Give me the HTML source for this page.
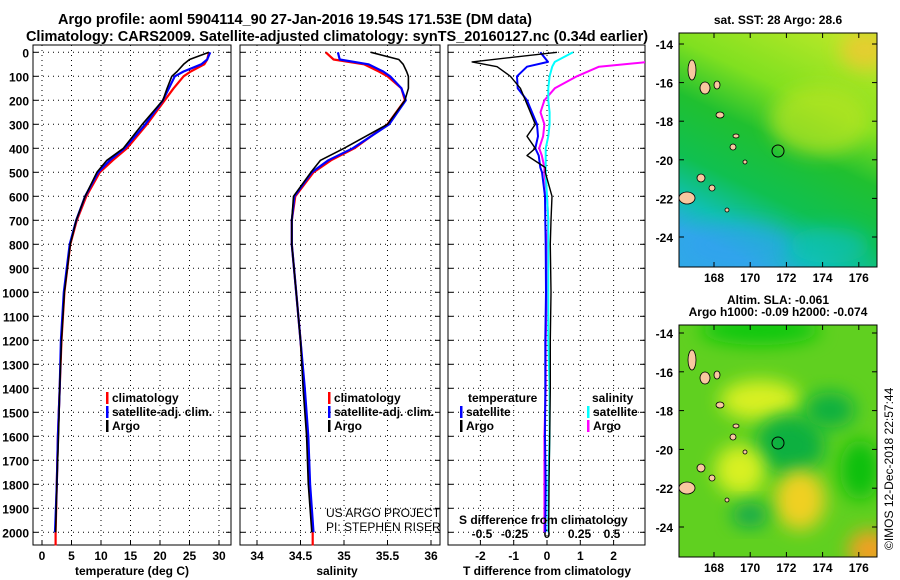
<!DOCTYPE html>
<html><head><meta charset="utf-8"><style>
html,body{margin:0;padding:0;background:#fff}
svg{display:block;font-family:"Liberation Sans",sans-serif}
.t{font-weight:bold;font-size:14.5px}
.k{font-weight:bold;font-size:12px}
.n{font-size:12px}
</style></head><body>
<svg id="c" width="900" height="580" viewBox="0 0 900 580" xmlns="http://www.w3.org/2000/svg">
<defs>
<filter id="bl" x="-50%" y="-50%" width="200%" height="200%"><feGaussianBlur stdDeviation="9"/></filter>
<clipPath id="cm1"><rect x="679" y="33" width="198" height="234"/></clipPath>
<clipPath id="cm2"><rect x="679" y="325" width="198" height="232"/></clipPath>
<clipPath id="cp3"><rect x="448" y="45" width="197" height="500"/></clipPath>
<linearGradient id="sst" x1="0.8" y1="0" x2="0.4" y2="1">
<stop offset="0" stop-color="#b8e828"/><stop offset="0.3" stop-color="#80e020"/><stop offset="0.5" stop-color="#20c030"/><stop offset="0.72" stop-color="#10c050"/><stop offset="0.88" stop-color="#10c0b0"/><stop offset="1" stop-color="#30a8e8"/></linearGradient>
</defs>
<text class="t" x="295" y="24" text-anchor="middle">Argo profile: aoml 5904114_90 27-Jan-2016 19.54S 171.53E (DM data)</text>
<text class="t" x="337" y="41" text-anchor="middle">Climatology: CARS2009. Satellite-adjusted climatology: synTS_20160127.nc (0.34d earlier)</text>
<!-- maps -->
<g>
<text class="k" x="778" y="24" text-anchor="middle">sat. SST: 28 Argo: 28.6</text>
<g clip-path="url(#cm1)">
<rect x="679" y="33" width="198" height="234" fill="url(#sst)"/>
<ellipse cx="865" cy="50" rx="25" ry="20" fill="#f0c830" filter="url(#bl)" opacity="0.8"/>
<ellipse cx="820" cy="120" rx="50" ry="35" fill="#b8e420" filter="url(#bl)" opacity="0.7"/>
<ellipse cx="740" cy="245" rx="55" ry="22" fill="#30a0f0" filter="url(#bl)" opacity="0.6"/>
<ellipse cx="830" cy="245" rx="40" ry="18" fill="#10c0c0" filter="url(#bl)" opacity="0.6"/>
</g>
<rect x="679" y="33" width="198" height="234" fill="none" stroke="#000"/>
<circle cx="778" cy="151" r="6" fill="none" stroke="#000"/>
</g>
<g>
<text class="k" x="778" y="304" text-anchor="middle">Altim. SLA: -0.061</text>
<text class="k" x="778" y="316" text-anchor="middle">Argo h1000: -0.09 h2000: -0.074</text>
<g clip-path="url(#cm2)">
<rect x="679" y="325" width="198" height="232" fill="#60d020"/>
<ellipse cx="760" cy="330" rx="60" ry="15" fill="#10c810" filter="url(#bl)"/>
<ellipse cx="760" cy="400" rx="40" ry="20" fill="#d8f020" filter="url(#bl)"/>
<ellipse cx="790" cy="445" rx="35" ry="30" fill="#10b040" filter="url(#bl)"/>
<ellipse cx="830" cy="410" rx="25" ry="18" fill="#10b040" filter="url(#bl)"/>
<ellipse cx="800" cy="500" rx="25" ry="30" fill="#f0d020" filter="url(#bl)"/>
<ellipse cx="740" cy="470" rx="25" ry="25" fill="#d8f020" filter="url(#bl)"/>
<ellipse cx="750" cy="515" rx="18" ry="12" fill="#10a850" filter="url(#bl)"/>
<ellipse cx="870" cy="550" rx="22" ry="20" fill="#f0a020" filter="url(#bl)"/>
<ellipse cx="860" cy="470" rx="20" ry="30" fill="#10c010" filter="url(#bl)"/>
</g>
<rect x="679" y="325" width="198" height="232" fill="none" stroke="#000"/>
<circle cx="778" cy="443" r="6" fill="none" stroke="#000"/>
</g>
<text x="893" y="550" font-size="12" transform="rotate(-90 893 550)">©IMOS 12-Dec-2018 22:57:44</text>
<g id="g"></g>
</svg>
<script>
// depth levels (m)
const depthsT = [0,30,50,80,100,150,200,300,400,450,500,600,700,800,1000,1200,1400,1600,1800,2000];
const tempClim = [28.3,28.0,27.5,25.2,24.0,22.3,20.8,17.8,14.4,12.0,9.8,7.5,5.9,4.8,3.8,3.3,3.0,2.7,2.5,2.3];
const tempSat  = [28.5,28.0,27.0,24.0,22.5,21.5,20.5,17.5,14.0,11.5,9.5,7.3,5.8,4.7,3.7,3.2,3.0,2.7,2.5,2.2];
const tempArgo = [28.3,25.0,24.0,22.9,22.0,21.2,20.5,17.0,13.8,11.0,9.3,7.3,5.8,4.8,3.8,3.3,3.0,2.8,2.5,2.3];
const salClim = [34.79,34.88,35.23,35.40,35.50,35.66,35.70,35.50,35.12,34.85,34.65,34.44,34.40,34.40,34.45,34.50,34.54,34.58,34.60,34.64];
const salSat  = [34.93,34.95,35.28,35.45,35.53,35.66,35.71,35.52,35.10,34.82,34.63,34.43,34.40,34.40,34.45,34.50,34.55,34.59,34.61,34.65];
const salArgo = [35.31,35.63,35.68,35.72,35.74,35.74,35.70,35.50,35.00,34.73,34.62,34.42,34.40,34.40,34.45,34.50,34.53,34.57,34.59,34.63];
const depthsD = [0,40,60,100,150,200,250,300,350,400,430,480,500,600,700,800,1000,1200,1400,1600,1800,2000];
const dTArgo = [0.3,-2.25,-1.5,-1.1,-0.8,-0.65,-0.5,-0.35,-0.6,-0.35,-0.6,-0.05,-0.05,0.15,0.12,0.1,0.12,0.1,0.1,0.08,0.06,0.05];
const dTSat  = [-0.2,0.03,-0.6,-0.9,-0.88,-0.6,-0.45,-0.3,-0.27,-0.35,-0.25,-0.2,-0.15,-0.06,-0.05,-0.04,-0.03,-0.05,-0.05,-0.06,-0.04,-0.05];
const dSSat  = [0.2,0.06,0.04,0.02,0.01,0.01,0.02,0.02,0.01,-0.01,-0.01,-0.01,-0.01,0.0,0.01,0.01,0.01,0.01,0.02,0.02,0.01,0.01];
const dSArgo = [0.8,0.78,0.4,0.23,0.06,-0.02,-0.05,-0.02,-0.03,-0.06,-0.04,-0.02,-0.02,0.0,0.01,0.0,0.0,-0.01,-0.01,-0.02,-0.02,-0.02];
const depthTicks = [0,100,200,300,400,500,600,700,800,900,1000,1100,1200,1300,1400,1500,1600,1700,1800,1900,2000];
const tempTicks = [0,5,10,15,20,25,30];
const salTicks = [34,34.5,35,35.5,36];
const salTickLabels = ["34","34.5","35","35.5","36"];
const dTTicks = [-2,-1,0,1,2];
const dSTicks = [-0.5,-0.25,0,0.25,0.5];
const dSTickLabels = ["-0.5","-0.25","0","0.25","0.5"];
const latTicks = [-14,-16,-18,-20,-22,-24];
const lonTicks = [168,170,172,174,176];

const NS="http://www.w3.org/2000/svg";
const G=document.getElementById('g');
function mk(tag,attrs,parent){const e=document.createElementNS(NS,tag);for(const k in attrs)e.setAttribute(k,attrs[k]);(parent||G).appendChild(e);return e;}
const yD=d=>52.3+d*0.24;
const xT=t=>42+t*5.9;
const xS=s=>257+(s-34)*87;
const xDT=v=>547+v*33.3;
const xDS=v=>547+v*130;
const TOP=45,BOT=545;
const panels=[[33,231],[240,440],[448,645]];

panels.forEach((p,i)=>{
  const grp=mk('g',{});
  
  
  depthTicks.forEach(d=>{
    const l=mk('line',{x1:p[0],x2:p[1],y1:yD(d),y2:yD(d),stroke:'#000','stroke-dasharray':'1 4'},grp);
    
    
    mk('line',{x1:p[0],x2:p[0]+5,y1:yD(d),y2:yD(d),stroke:'#000'},grp);
    mk('line',{x1:p[1]-5,x2:p[1],y1:yD(d),y2:yD(d),stroke:'#000'},grp);
  });
  mk('rect',{x:p[0],y:TOP,width:p[1]-p[0],height:BOT-TOP,fill:'none',stroke:'#000'},grp);
});
depthTicks.forEach(d=>{
  const t=mk('text',{x:29,y:yD(d)+5,'text-anchor':'end',class:'k'});
  t.textContent=d;
  
  
});
function vgrid(ticks,fx,labels,yl){
  ticks.forEach((v,i)=>{
    mk('line',{x1:fx(v),x2:fx(v),y1:TOP,y2:BOT,stroke:'#000','stroke-dasharray':'1 4'});
    mk('line',{x1:fx(v),x2:fx(v),y1:BOT-5,y2:BOT,stroke:'#000'});
    const t=mk('text',{x:fx(v),y:yl,'text-anchor':'middle',class:'k'});
    t.textContent=labels?labels[i]:v;
    
    
  });
}
vgrid(tempTicks,xT,null,560);
vgrid(salTicks,xS,salTickLabels,560);
vgrid(dTTicks,xDT,null,560);
dSTicks.forEach((v,i)=>{
  const t=mk('text',{x:xDS(v),y:538,'text-anchor':'middle',class:'k'});
  t.textContent=dSTickLabels[i];
  
  
});
function line(xs,ds,fx,color,name,w,clip){
  const pts=xs.map((v,i)=>fx(v).toFixed(1)+','+yD(ds[i]).toFixed(1)).join(' ');
  const e=mk('polyline',{points:pts,fill:'none',stroke:color,'stroke-width':w||2.2,'stroke-linejoin':'round'});
  if(clip)e.setAttribute('clip-path','url(#cp3)');
  
  
}
const dExt=depthsT.concat([2055]);
line(tempClim.concat([2.3]),dExt,xT,'#f00','temp-climatology-line');
line(tempSat,depthsT,xT,'#00f','temp-satellite-line');
line(tempArgo,depthsT,xT,'#000','temp-argo-line',1.6);
line(salClim.concat([34.64]),dExt,xS,'#f00','sal-climatology-line');
line(salSat,depthsT,xS,'#00f','sal-satellite-line');
line(salArgo,depthsT,xS,'#000','sal-argo-line',1.6);
line(dSArgo,depthsD,xDS,'#f0f','s-diff-argo-line',2,true);
line(dSSat,depthsD,xDS,'#0ff','s-diff-satellite-line',2,true);
line(dTSat,depthsD,xDT,'#00f','t-diff-satellite-line',2,true);
line(dTArgo,depthsD,xDT,'#000','t-diff-argo-line',1.4,true);

function txt(x,y,s,cls,name,anchor){const t=mk('text',{x:x,y:y,class:cls,'text-anchor':anchor||'start'});t.textContent=s;return t;}
function leg(x,y,color,label,name){mk('rect',{x:x,y:y-10,width:2.5,height:12,fill:color});txt(x+6,y,label,'k',name);}
leg(106,402,'#f00','climatology','legend-climatology');
leg(106,416,'#00f','satellite-adj. clim.','legend-satellite');
leg(106,430,'#000','Argo','legend-argo');
leg(328,402,'#f00','climatology','legend2-climatology');
leg(328,416,'#00f','satellite-adj. clim.','legend2-satellite');
leg(328,430,'#000','Argo','legend2-argo');
txt(468,402,'temperature','k','legend-temperature-heading');
leg(460,416,'#00f','satellite','legend-t-satellite');
leg(460,430,'#000','Argo','legend-t-argo');
txt(592,402,'salinity','k','legend-salinity-heading');
leg(587,416,'#0ff','satellite','legend-s-satellite');
leg(587,430,'#f0f','Argo','legend-s-argo');
txt(326,517,'US ARGO PROJECT','n','credit-project');
txt(326,531,'PI: STEPHEN RISER','n','credit-pi');
txt(459,524,'S difference from climatology','k','s-diff-axis-title');
txt(132,575,'temperature (deg C)','k','x-axis-title-temperature','middle');
txt(337,575,'salinity','k','x-axis-title-salinity','middle');
txt(547,575,'T difference from climatology','k','x-axis-title-tdiff','middle');

// map axes
const yLat1=l=>44+(-14-l)*19.3, yLat2=l=>333+(-14-l)*19.4;
const xLon=l=>714+(l-168)*18.1;
[[yLat1,33,267],[yLat2,325,557]].forEach(([fy,top,bot],mi)=>{
  latTicks.forEach(l=>{
    txt(673,fy(l)+5,String(l),'k','lat-tick-label','end');
    mk('line',{x1:679,x2:684,y1:fy(l),y2:fy(l),stroke:'#000'});
    mk('line',{x1:872,x2:877,y1:fy(l),y2:fy(l),stroke:'#000'});
  });
  lonTicks.forEach(l=>{
    txt(xLon(l),bot+15,String(l),'k','lon-tick-label','middle');
    mk('line',{x1:xLon(l),x2:xLon(l),y1:bot-5,y2:bot,stroke:'#000'});
    mk('line',{x1:xLon(l),x2:xLon(l),y1:top,y2:top+5,stroke:'#000'});
  });
  const off=top===33?0:290;
  [[692,70,4,10],[705,88,5,6],[717,85,3,4],[720,115,4,3],[736,136,3,2],[733,147,3,3],[745,162,2,2],[701,178,4,4],[712,188,3,3],[687,198,8,6],[727,210,2,2]].forEach(a=>{
    const e=mk('ellipse',{cx:a[0],cy:a[1]+off,rx:a[2],ry:a[3],fill:'#f8c8a0',stroke:'#000','stroke-width':0.8});
    
    
  });
});
</script>
</body></html>
